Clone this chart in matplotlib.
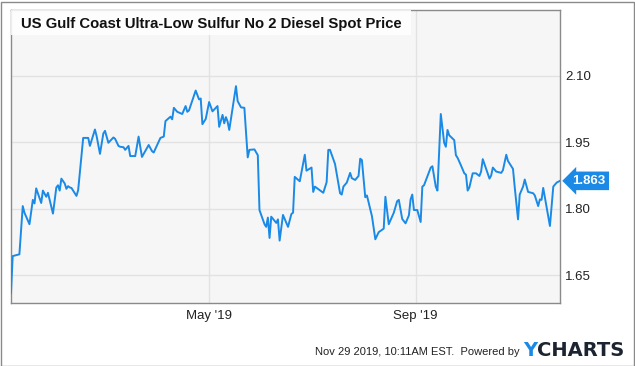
import matplotlib.pyplot as plt
import matplotlib.dates as mdates
from matplotlib.patches import Rectangle
import pandas as pd

plt.rcParams["font.family"] = ["Liberation Sans", "DejaVu Sans"]

title = "US Gulf Coast Ultra-Low Sulfur No 2 Diesel Spot Price"
footer = "Nov 29 2019, 10:11AM EST.  Powered by"

# daily spot price (USD/gal)
dates = [
    "2019-01-03", "2019-01-04", "2019-01-08", "2019-01-10", "2019-01-11", "2019-01-14",
    "2019-01-16", "2019-01-17", "2019-01-18", "2019-01-21", "2019-01-22", "2019-01-24",
    "2019-01-25", "2019-01-28", "2019-01-30", "2019-01-31", "2019-02-01", "2019-02-02",
    "2019-02-04", "2019-02-05", "2019-02-06", "2019-02-07", "2019-02-08", "2019-02-11",
    "2019-02-12", "2019-02-15", "2019-02-18", "2019-02-19", "2019-02-22", "2019-02-23",
    "2019-02-25", "2019-02-27", "2019-02-28", "2019-03-02", "2019-03-05", "2019-03-06",
    "2019-03-08", "2019-03-09", "2019-03-11", "2019-03-12", "2019-03-14", "2019-03-15",
    "2019-03-18", "2019-03-20", "2019-03-22", "2019-03-26", "2019-03-28", "2019-03-29",
    "2019-04-02", "2019-04-04", "2019-04-05", "2019-04-08", "2019-04-09", "2019-04-10",
    "2019-04-12", "2019-04-15", "2019-04-17", "2019-04-18", "2019-04-19", "2019-04-23",
    "2019-04-25", "2019-04-26", "2019-04-27", "2019-04-29", "2019-05-01", "2019-05-03",
    "2019-05-06", "2019-05-07", "2019-05-09", "2019-05-10", "2019-05-11", "2019-05-12",
    "2019-05-13", "2019-05-17", "2019-05-18", "2019-05-20", "2019-05-22", "2019-05-24",
    "2019-05-25", "2019-05-28", "2019-05-30", "2019-05-31", "2019-06-03", "2019-06-04",
    "2019-06-05", "2019-06-06", "2019-06-07", "2019-06-10", "2019-06-11", "2019-06-12",
    "2019-06-14", "2019-06-17", "2019-06-19", "2019-06-20", "2019-06-21", "2019-06-24",
    "2019-06-27", "2019-06-28", "2019-07-01", "2019-07-02", "2019-07-03", "2019-07-08",
    "2019-07-10", "2019-07-11", "2019-07-12", "2019-07-15", "2019-07-18", "2019-07-19",
    "2019-07-20", "2019-07-22", "2019-07-24", "2019-07-25", "2019-07-27", "2019-07-29",
    "2019-07-30", "2019-07-31", "2019-08-02", "2019-08-03", "2019-08-06", "2019-08-08",
    "2019-08-10", "2019-08-13", "2019-08-14", "2019-08-16", "2019-08-19", "2019-08-21",
    "2019-08-22", "2019-08-24", "2019-08-26", "2019-08-28", "2019-08-29", "2019-08-30",
    "2019-08-31", "2019-09-02", "2019-09-04", "2019-09-05", "2019-09-06", "2019-09-10",
    "2019-09-11", "2019-09-13", "2019-09-14", "2019-09-16", "2019-09-18", "2019-09-19",
    "2019-09-20", "2019-09-21", "2019-09-24", "2019-09-25", "2019-09-26", "2019-09-28",
    "2019-09-30", "2019-10-01", "2019-10-02", "2019-10-03", "2019-10-05", "2019-10-07",
    "2019-10-09", "2019-10-10", "2019-10-11", "2019-10-15", "2019-10-16", "2019-10-17",
    "2019-10-19", "2019-10-22", "2019-10-23", "2019-10-25", "2019-10-26", "2019-10-29",
    "2019-10-30", "2019-11-01", "2019-11-02", "2019-11-04", "2019-11-05", "2019-11-07",
    "2019-11-10", "2019-11-11", "2019-11-13", "2019-11-14", "2019-11-15", "2019-11-16",
    "2019-11-18", "2019-11-20", "2019-11-22", "2019-11-24", "2019-11-26",
]
prices = [
    1.610, 1.693, 1.697, 1.806, 1.791, 1.765,
    1.820, 1.812, 1.846, 1.813, 1.841, 1.827,
    1.836, 1.789, 1.848, 1.853, 1.841, 1.868,
    1.857, 1.845, 1.851, 1.848, 1.847, 1.829,
    1.842, 1.960, 1.960, 1.942, 1.979, 1.964,
    1.924, 1.970, 1.976, 1.949, 1.961, 1.958,
    1.942, 1.940, 1.939, 1.933, 1.942, 1.919,
    1.919, 1.963, 1.917, 1.944, 1.930, 1.927,
    1.960, 1.963, 1.998, 2.008, 2.002, 2.028,
    2.019, 2.014, 2.032, 2.019, 2.022, 2.067,
    2.047, 2.049, 1.991, 2.003, 2.041, 2.020,
    2.032, 1.985, 2.012, 1.993, 2.007, 1.997,
    1.978, 2.077, 2.043, 2.029, 2.028, 1.916,
    1.933, 1.934, 1.921, 1.797, 1.765, 1.759,
    1.780, 1.734, 1.782, 1.768, 1.776, 1.728,
    1.786, 1.759, 1.788, 1.791, 1.872, 1.862,
    1.922, 1.886, 1.893, 1.838, 1.850, 1.836,
    1.860, 1.933, 1.933, 1.901, 1.835, 1.832,
    1.850, 1.859, 1.881, 1.869, 1.865, 1.874,
    1.913, 1.910, 1.826, 1.830, 1.783, 1.731,
    1.747, 1.755, 1.827, 1.765, 1.791, 1.817,
    1.820, 1.777, 1.767, 1.785, 1.821, 1.832,
    1.797, 1.797, 1.770, 1.850, 1.853, 1.893,
    1.896, 1.850, 1.841, 2.014, 1.949, 1.940,
    1.978, 1.966, 1.955, 1.921, 1.915, 1.898,
    1.880, 1.877, 1.841, 1.848, 1.880, 1.880,
    1.874, 1.884, 1.912, 1.868, 1.875, 1.893,
    1.884, 1.881, 1.887, 1.922, 1.908, 1.890,
    1.850, 1.776, 1.832, 1.850, 1.866, 1.838,
    1.835, 1.830, 1.806, 1.821, 1.820, 1.847,
    1.804, 1.761, 1.850, 1.859, 1.863,
]
yticks = [1.65, 1.80, 1.95, 2.10]
xtick_dates = ["2019-05-01", "2019-09-01"]

blue = "#1a8ae6"
dt = pd.to_datetime(dates)

fig = plt.figure(figsize=[6.35, 3.66], dpi=100)
ax = fig.add_axes([11 / 635, 1 - 303 / 366, 549 / 635, 293 / 366])
ax.set_facecolor("#f6f6f6")

ax.plot(dt, prices, color=blue, linewidth=1.4, zorder=3)

ax.set_xlim(dt[0], dt[-1])
ax.set_ylim(1.587, 2.249)

ax.yaxis.tick_right()
ax.set_yticks(yticks)
ax.set_yticklabels(["%.2f" % t for t in yticks])
ax.set_xticks(pd.to_datetime(xtick_dates))
ax.xaxis.set_major_formatter(mdates.DateFormatter("%b '%y"))
ax.tick_params(axis="both", length=0, labelsize=9.5, colors="#222222")
ax.tick_params(axis="y", pad=3.5)
ax.tick_params(axis="x", pad=5)
ax.grid(True, color="#e2e2e2", linewidth=1)
ax.set_axisbelow(True)
for sp in ax.spines.values():
    sp.set_color("#8a8a8a")
    sp.set_linewidth(1)

# title box
ax.add_patch(
    Rectangle((0, 1 - 25 / 293), 400 / 549, 25 / 293, transform=ax.transAxes,
              fc="white", ec="none", alpha=0.85, zorder=4)
)
ax.text(
    10 / 549,
    1 - 18 / 293,
    title,
    transform=ax.transAxes,
    ha="left",
    va="baseline",
    fontsize=10.7,
    fontweight="bold",
    color="#111111",
    zorder=5,
)

# last value tag
ax.annotate(
    "%.3f" % prices[-1],
    xy=(1.0, prices[-1]),
    xycoords=("axes fraction", "data"),
    xytext=(9, 0),
    textcoords="offset points",
    ha="left",
    va="center",
    fontsize=9.5,
    fontweight="bold",
    color="white",
    bbox=dict(boxstyle="larrow,pad=0.25", fc=blue, ec="none"),
    annotation_clip=False,
    zorder=6,
)

# footer
fig.text(520 / 635, 1 - 352 / 366, footer, ha="right", va="center", fontsize=8, color="#222222")
fig.text(523 / 635, 1 - 350 / 366, "Y", ha="left", va="center", fontsize=14, fontweight="bold",
         color=blue, family="DejaVu Sans")
fig.text(537 / 635, 1 - 350 / 366, "CHARTS", ha="left", va="center", fontsize=14, fontweight="bold",
         color="#1c2331", family="DejaVu Sans")

# outer border
fig.patches.append(
    Rectangle((0.5 / 635, 0.5 / 366), 633 / 635, 364 / 366, transform=fig.transFigure,
              fill=False, ec="#8a8a8a", lw=1)
)

fig.savefig("out.png", dpi=100)
